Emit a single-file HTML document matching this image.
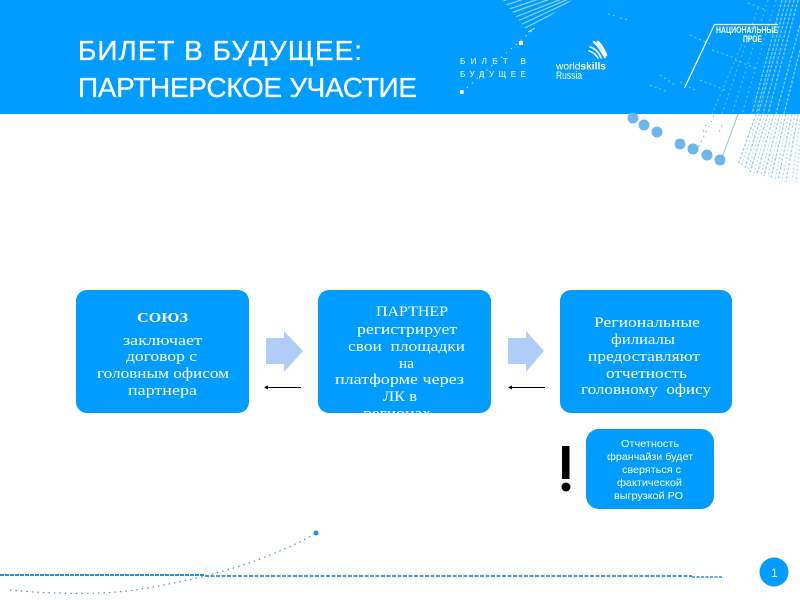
<!DOCTYPE html>
<html lang="ru"><head><meta charset="utf-8"><title>Билет в будущее</title>
<style>html,body{margin:0;padding:0;background:#fff;width:800px;height:600px;overflow:hidden}svg{display:block}
.s{font-family:"Liberation Serif","DejaVu Serif",serif;font-size:14.5px;fill:#fff}
.a{font-family:"Liberation Sans",sans-serif;font-size:10.5px;fill:#fff}
.t{font-family:"Liberation Sans",sans-serif;font-size:28px;fill:#fff;stroke:#fff;stroke-width:.3}
.l{font-family:"Liberation Sans",sans-serif;font-size:8px;fill:#fff}
</style></head><body>
<svg width="800" height="600" viewBox="0 0 800 600" xmlns="http://www.w3.org/2000/svg">
<defs><clipPath id="c2"><rect x="318" y="290" width="173" height="123" rx="11"/></clipPath>
<clipPath id="tri"><polygon points="503,0 572,0 528,32"/></clipPath></defs>
<rect width="800" height="600" fill="#fff"/>
<rect width="800" height="114" fill="#009cff"/>

<!-- top hatched triangle -->
<g clip-path="url(#tri)" stroke="#8fd3fd" stroke-width="1.2" fill="none">
<path d="M500,2L530,-8M500,7L545,-8M500,12L560,-8M505,15L570,-8M510,19L580,-8M515,22L585,-8M520,25L590,-8M523,29L595,-8"/>
</g>
<path d="M528,32L535,28" stroke="#bfe6ff" stroke-width="1"/>

<!-- right rays on blue -->
<g fill="none">
<g stroke="#79c6fa" stroke-width="1.4" stroke-dasharray="3 1.5">
<path d="M798,0L768,114M794,0L763,114M790,0L758,114M786,0L756,114M782,0L752,114M800,25L776,114M800,50L784,114"/>
</g>
<g stroke="#6cc0fa" stroke-width="1" stroke-dasharray="2 3">
<path d="M776,0L742,114M768,0L732,114M758,8L722,114M748,30L712,114"/>
</g>
<g stroke="#a8dcfd" stroke-width="1" stroke-dasharray="2 3" opacity=".75">
<path d="M748,3L766,10M690,35L712,45M735,60L755,68M680,82L695,90M700,80L725,90M660,75L675,85M712,50L735,58M620,18L630,20M608,14L616,16M650,85L668,92"/>
</g>
</g>
<!-- right rays on white -->
<g fill="none">
<g stroke="#9fd0f2" stroke-width="1.3" stroke-dasharray="3 1.5">
<path d="M756,114L738,165M762,114L745,168M768,114L750,172M774,114L757,174M780,114L764,176M786,114L771,178M792,114L778,180M798,114L786,182"/>
</g>
<g stroke="#b9ddf5" stroke-width="1.2" stroke-dasharray="2 2">
<path d="M759,114L741,166M765,114L748,170M771,114L754,173M777,114L761,175M783,114L768,177M789,114L775,179M795,114L782,181M800,120L792,180M800,145L796,182"/>
</g>
<path d="M738,114L722,158" stroke="#8cc6ee" stroke-width="1"/>
<path d="M714,116L698,148M706,125L702,135M722,125L718,135" stroke="#80aac8" stroke-width="1" stroke-dasharray="1.5 4"/>
</g>

<!-- circles -->
<g fill="#6db6ec">
<circle cx="633" cy="118" r="5.5"/><circle cx="644" cy="125" r="5.5"/><circle cx="657" cy="132" r="5.5"/>
<circle cx="680" cy="144" r="5.5"/><circle cx="693" cy="149" r="5.5"/><circle cx="707" cy="155" r="5.5"/><circle cx="720" cy="160" r="5.5"/>
</g>

<!-- title -->
<text class="t" x="78" y="60" textLength="284" lengthAdjust="spacing">БИЛЕТ В БУДУЩЕЕ:</text>
<text class="t" x="78" y="97" textLength="339" lengthAdjust="spacing">ПАРТНЕРСКОЕ УЧАСТИЕ</text>

<!-- билет logo -->
<path d="M462,92L535,28" stroke="#cfeafd" stroke-width="1" stroke-dasharray="1.5 5" fill="none"/>
<rect x="519" y="41" width="4" height="4" fill="#fff"/>
<rect x="460" y="90" width="3.5" height="4" fill="#fff"/>
<text class="l" x="460" y="64" textLength="66">БИЛЕТ В</text>
<text class="l" x="460" y="77" textLength="66">БУДУЩЕЕ</text>

<!-- worldskills -->
<g fill="none" stroke="#fff" stroke-linecap="round">
<path d="M594,42C598,45 601,50 605,57M598,42C602,46 604,50 606,55" stroke-width="2.4"/>
<path d="M590,47C594,48 599,52 601,58M589,51C593,52 596,55 598,58" stroke-width="1.6"/>
</g>
<text x="556" y="69.5" font-family="Liberation Sans,sans-serif" font-size="10.5" fill="#fff" textLength="50" lengthAdjust="spacingAndGlyphs">world<tspan font-weight="bold">skills</tspan></text>
<text x="556" y="79" font-family="Liberation Sans,sans-serif" font-size="11" fill="#fff" textLength="26" lengthAdjust="spacingAndGlyphs">Russia</text>

<!-- national project -->
<path d="M684.5,88L714.5,24.5H778" stroke="#fff" stroke-width="1.2" fill="none"/>
<text x="716" y="33" font-family="Liberation Sans,sans-serif" font-size="9" font-weight="bold" fill="#fff" textLength="62" lengthAdjust="spacingAndGlyphs">НАЦИОНАЛЬНЫЕ</text>
<text x="743" y="42" font-family="Liberation Sans,sans-serif" font-size="9" font-weight="bold" fill="#fff" textLength="19" lengthAdjust="spacingAndGlyphs">ПРОЕ</text>

<!-- boxes -->
<rect x="76" y="290" width="173" height="123" rx="11" fill="#009cff"/>
<rect x="318" y="290" width="173" height="123" rx="11" fill="#009cff"/>
<rect x="560" y="290" width="172" height="123" rx="11" fill="#009cff"/>
<rect x="586" y="429" width="128" height="80" rx="13" fill="#009cff"/>

<text class="s" x="137" y="322" textLength="51" lengthAdjust="spacingAndGlyphs" font-weight="bold" style="font-size:14px">СОЮЗ</text>
<text class="s" x="123" y="345" textLength="79" lengthAdjust="spacingAndGlyphs">заключает</text>
<text class="s" x="126" y="361" textLength="71" lengthAdjust="spacingAndGlyphs">договор с</text>
<text class="s" x="97" y="378" textLength="132" lengthAdjust="spacingAndGlyphs">головным офисом</text>
<text class="s" x="128" y="395" textLength="69" lengthAdjust="spacingAndGlyphs">партнера</text>

<g clip-path="url(#c2)">
<text class="s" x="376" y="316" textLength="72" lengthAdjust="spacingAndGlyphs">ПАРТНЕР</text>
<text class="s" x="357" y="334" textLength="100" lengthAdjust="spacingAndGlyphs">регистрирует</text>
<text class="s" x="348" y="351" textLength="117" lengthAdjust="spacingAndGlyphs" xml:space="preserve">свои  площадки</text>
<text class="s" x="399" y="368" textLength="15" lengthAdjust="spacingAndGlyphs">на</text>
<text class="s" x="335" y="384" textLength="129" lengthAdjust="spacingAndGlyphs">платформе через</text>
<text class="s" x="383" y="401" textLength="34" lengthAdjust="spacingAndGlyphs">ЛК в</text>
<text class="s" x="363" y="418" textLength="68" lengthAdjust="spacingAndGlyphs">регионах</text>
</g>

<text class="s" x="594" y="327" textLength="106" lengthAdjust="spacingAndGlyphs">Региональные</text>
<text class="s" x="611" y="344" textLength="64" lengthAdjust="spacingAndGlyphs">филиалы</text>
<text class="s" x="588" y="361" textLength="112" lengthAdjust="spacingAndGlyphs">предоставляют</text>
<text class="s" x="606" y="378" textLength="81" lengthAdjust="spacingAndGlyphs">отчетность</text>
<text class="s" x="581" y="394" textLength="130" lengthAdjust="spacingAndGlyphs" xml:space="preserve">головному  офису</text>

<text class="a" x="621" y="447" textLength="58" lengthAdjust="spacingAndGlyphs">Отчетность</text>
<text class="a" x="607" y="460" textLength="86" lengthAdjust="spacingAndGlyphs">франчайзи будет</text>
<text class="a" x="622" y="473" textLength="59" lengthAdjust="spacingAndGlyphs">сверяться с</text>
<text class="a" x="617" y="486" textLength="65" lengthAdjust="spacingAndGlyphs">фактической</text>
<text class="a" x="614" y="499" textLength="69" lengthAdjust="spacingAndGlyphs">выгрузкой РО</text>

<!-- block arrows -->
<polygon points="266,338 284,338 284,331 303,351 284,372 284,364 266,364" fill="#b0cdf8"/>
<polygon points="508,338 526,338 526,331 544,351 526,372 526,364 508,364" fill="#b0cdf8"/>

<!-- thin arrows -->
<path d="M266,387.5H301M510,387.5H545" stroke="#000" stroke-width="1"/>
<polygon points="264,387.5 268,385.5 268,389.5" fill="#000"/>
<polygon points="508,387.5 512,385.5 512,389.5" fill="#000"/>

<!-- exclamation -->
<rect x="562" y="446" width="7.5" height="33" fill="#000"/>
<circle cx="566" cy="487" r="4.5" fill="#000"/>

<!-- footer lines -->
<path d="M0,575H205" stroke="#1b94e0" stroke-width="2" stroke-dasharray="4 1" fill="none"/>
<path d="M205,576H692" stroke="#3f9fdc" stroke-width="2" stroke-dasharray="4 1.5" fill="none"/>
<path d="M692,577H722" stroke="#1b94e0" stroke-width="1.5" stroke-dasharray="3 1.5" fill="none"/>
<path d="M10,590C50,594 100,595 135,590C170,585 230,572 270,555C290,547 305,540 316,533" stroke="#4f93bd" stroke-width="1.2" stroke-dasharray="1.5 4" fill="none"/>
<circle cx="316" cy="533" r="2.5" fill="#1594e0"/>

<!-- page number -->
<circle cx="774" cy="572" r="14.5" fill="#009cff"/>
<text x="771" y="577" font-family="Liberation Sans,sans-serif" font-size="12" fill="#fff">1</text>
</svg>
</body></html>
